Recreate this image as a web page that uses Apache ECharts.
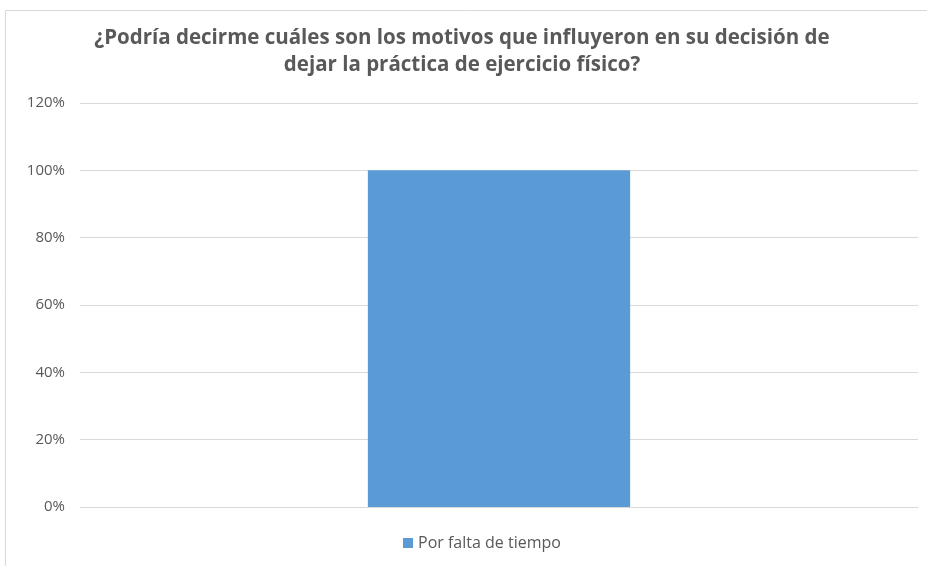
<!DOCTYPE html>
<html><head><meta charset="utf-8">
<script src="https://cdn.jsdelivr.net/npm/echarts@6/dist/echarts.min.js"></script>
<style>html,body{margin:0;padding:0;background:#fff}#c{width:927px;height:566px}</style>
</head><body><div id="c"></div>
<script>
const categories = ['Por falta de tiempo'];
const seriesName = 'Por falta de tiempo';
const values = [100];
const titleLines = ['¿Podría decirme cuáles son los motivos que influyeron en su decisión de', 'dejar la práctica de ejercicio físico?'];

const chart = echarts.init(document.getElementById('c'));
chart.setOption({
  animation: false,
  graphic: [{type:'rect', shape:{x:5.5,y:10.5,width:1000,height:1000}, style:{fill:'none', stroke:'#d9d9d9', lineWidth:1}, silent:true}],
  title: {
    text: titleLines.join('\n'),
    left: 457, top: 20, textAlign: 'center',
    textStyle: {fontFamily:'Open Sans', fontWeight:'bold', fontSize:20.5, color:'#595959', lineHeight:27}
  },
  legend: {
    bottom: 10, left: 398, itemWidth: 10, itemHeight: 10, itemGap: 5,
    icon: 'rect',
    textStyle: {fontFamily:'Open Sans', fontSize:16, color:'#595959'},
    data: [seriesName]
  },
  grid: {left: 80, right: 9, top: 103, bottom: 59, containLabel: false},
  xAxis: {
    type: 'category', data: categories,
    axisLine: {show: true, lineStyle: {color: '#d9d9d9'}},
    axisTick: {show: false}, axisLabel: {show: false}
  },
  yAxis: {
    type: 'value', min: 0, max: 120, interval: 20,
    axisLine: {show:false}, axisTick: {show:false},
    axisLabel: {formatter: '{value}%', color:'#595959', fontFamily:'Open Sans', fontSize:15, margin:15},
    splitLine: {lineStyle: {color:'#d9d9d9'}}
  },
  series: [{
    name: seriesName, type: 'bar', data: values, barWidth: '31.3%',
    itemStyle: {color: '#5b9bd5'}
  }]
});
</script></body></html>
